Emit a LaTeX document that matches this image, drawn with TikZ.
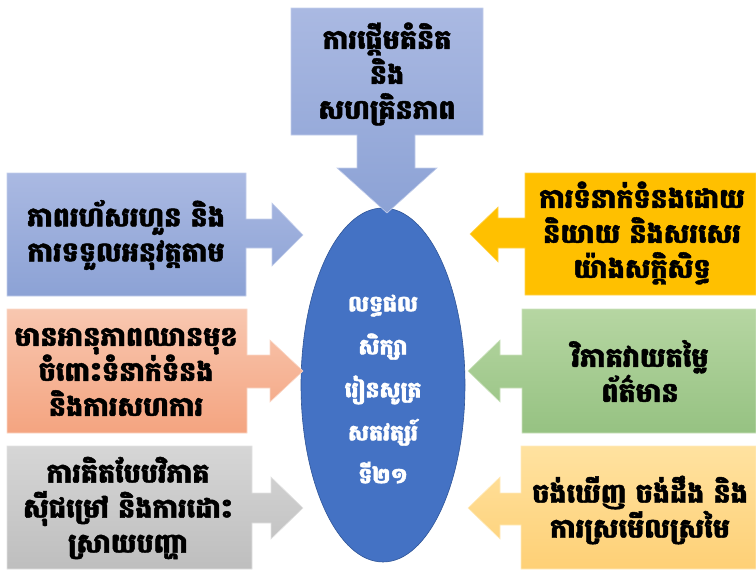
\documentclass[tikz,border=0pt]{standalone}
\usepackage{fontspec}
\usetikzlibrary{shapes.geometric}
\newfontfamily\kh[Script=Khmer, BoldFeatures={FakeBold=1.6}]{Battambang}
\definecolor{bluetop}{RGB}{170,185,226}
\definecolor{bluebot}{RGB}{140,162,213}
\definecolor{orgtop}{RGB}{248,199,176}
\definecolor{orgbot}{RGB}{244,164,128}
\definecolor{graytop}{RGB}{214,214,214}
\definecolor{graybot}{RGB}{190,190,190}
\definecolor{gold}{RGB}{255,192,0}
\definecolor{grntop}{RGB}{182,214,162}
\definecolor{grnbot}{RGB}{150,194,130}
\definecolor{ltgtop}{RGB}{255,226,160}
\definecolor{ltgbot}{RGB}{254,208,118}
\definecolor{coreblue}{RGB}{68,114,196}
\definecolor{coreline}{RGB}{47,85,151}
\begin{document}
\begin{tikzpicture}[x=1pt,y=-1pt,
  txt/.style={align=center, font=\kh\bfseries\fontsize{27}{35}\selectfont, text=black, inner sep=0pt},
  coretxt/.style={align=center, font=\kh\bfseries\fontsize{22}{43}\selectfont, text=white, inner sep=0pt},
  callout/.style={line width=0.6pt, line join=miter}]
\useasboundingbox (0,0) rectangle (756,570);

% central ellipse
\node[ellipse, minimum width=164pt, minimum height=354pt, inner sep=0pt,
      fill=coreblue, draw=coreline, line width=0.6pt] (core) at (383,385) {};

% top callout
\path[callout, top color=bluetop, bottom color=bluebot, draw=bluetop!70!white]
  (291,8) -- (483,8) -- (483,135) -- (415,135) -- (415,168) -- (437,168)
  -- (387,213) -- (337,168) -- (357,168) -- (357,135) -- (291,135) -- cycle;

% left callouts
\path[callout, top color=bluetop, bottom color=bluebot, draw=bluetop!70!white]
  (7,173) -- (246,173) -- (246,219) -- (272,219) -- (272,203) -- (303,235)
  -- (272,266) -- (272,248) -- (246,248) -- (246,296) -- (7,296) -- cycle;
\path[callout, top color=orgtop, bottom color=orgbot, draw=orgtop!70!white]
  (7,309) -- (247,309) -- (247,355) -- (270,355) -- (270,340) -- (303,371)
  -- (270,402) -- (270,388) -- (247,388) -- (247,433) -- (7,433) -- cycle;
\path[callout, top color=graytop, bottom color=graybot, draw=graytop!70!white]
  (7,446) -- (252,446) -- (252,493) -- (271,493) -- (271,477) -- (303,508)
  -- (271,539) -- (271,523) -- (252,523) -- (252,569) -- (7,569) -- cycle;

% right callouts
\path[callout, fill=gold, draw=gold!70!white]
  (756,173) -- (525,173) -- (525,218) -- (498,218) -- (498,207) -- (470,234)
  -- (498,262) -- (498,248) -- (525,248) -- (525,295) -- (756,295) -- cycle;
\path[callout, top color=grntop, bottom color=grnbot, draw=grntop!70!white]
  (756,309) -- (522,309) -- (522,355) -- (500,355) -- (500,340) -- (468,371)
  -- (500,402) -- (500,388) -- (522,388) -- (522,433) -- (756,433) -- cycle;
\path[callout, top color=ltgtop, bottom color=ltgbot, draw=ltgtop!70!white]
  (756,446) -- (521,446) -- (521,493) -- (500,493) -- (500,477) -- (468,508)
  -- (500,539) -- (500,525) -- (521,525) -- (521,569) -- (756,569) -- cycle;

% texts
\node[txt] (ttop) at (387,74) {ការផ្ដើមគំនិត\\និង\\សហគ្រិនភាព};
\node[txt] (tl1) at (126,235) {ភាពរហ័សរហួន និង\\ការទទួលអនុវត្តតាម};
\node[txt] (tl2) at (126,372) {មានអានុភាពឈានមុខ\\ចំពោះទំនាក់ទំនង\\និងការសហការ};
\node[txt] (tl3) at (128,508) {ការគិតបែបវិភាគ\\ស៊ីជម្រៅ និងការដោះ\\ស្រាយបញ្ហា};
\node[txt] (tr1) at (642,233) {ការទំនាក់ទំនងដោយ\\និយាយ និងសរសេរ\\យ៉ាងសក្តិសិទ្ធ};
\node[txt] (tr2) at (640,371) {វិភាគវាយតម្លៃ\\ព័ត៌មាន};
\node[txt] (tr3) at (640,510) {ចង់ឃើញ ចង់ដឹង និង\\ការស្រមើលស្រមៃ};
\node[coretxt] (tcore) at (383,389) {លទ្ធផល\\សិក្សា\\រៀនសូត្រ\\សតវត្សរ៍\\ទី២១};
\end{tikzpicture}
\end{document}
